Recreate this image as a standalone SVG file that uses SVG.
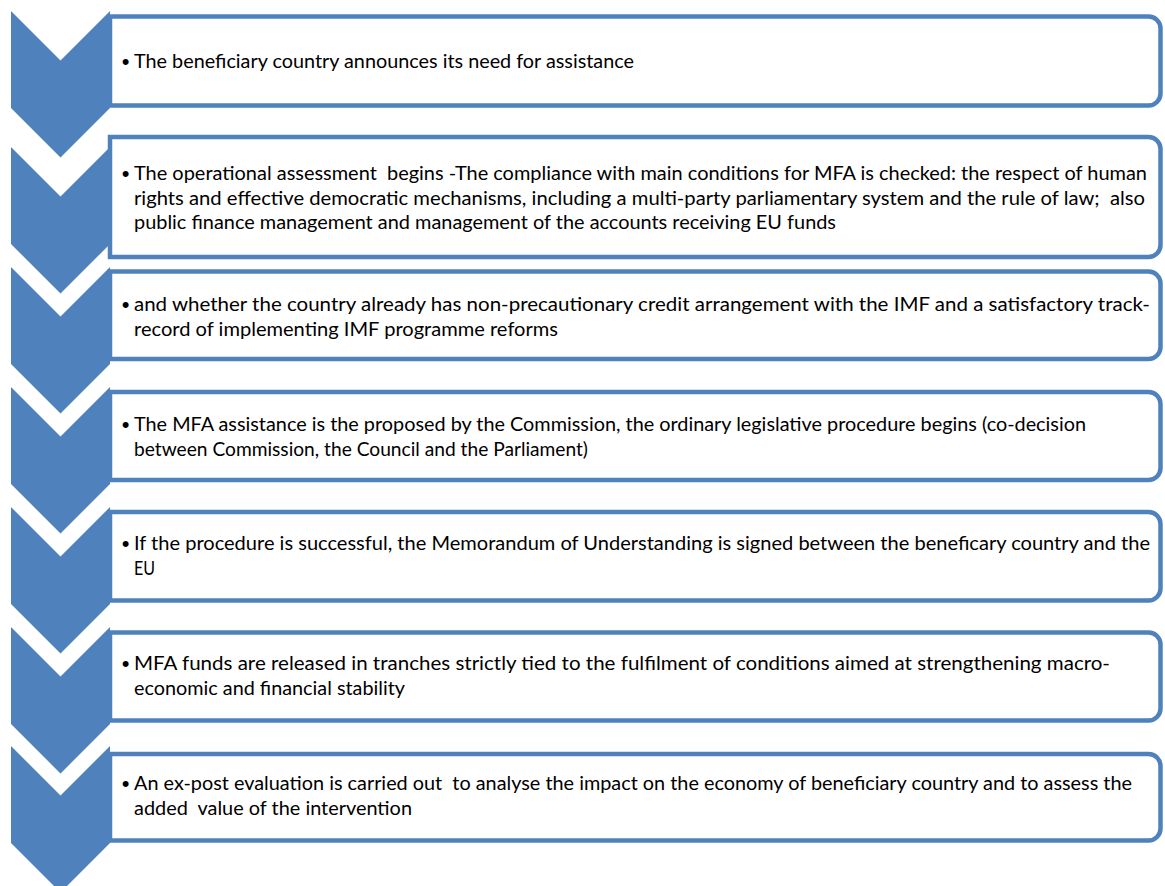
<svg xmlns="http://www.w3.org/2000/svg" width="1165" height="886" viewBox="0 0 1165 886">
  <style>
    .box { fill: #ffffff; stroke: #4f81bd; stroke-width: 4.5; }
    .chev { fill: #4f81bd; }
    text { font-family: Lato, "Liberation Sans", sans-serif; font-size: 18.5px; fill: #000000; white-space: pre; }
    .bul { text-anchor: middle; font-family: "Liberation Sans", sans-serif; font-size: 22px; }
  </style>
  <defs>
    <!-- downward chevron, 99 wide, 147 tall, 45-degree notch and point -->
    <polygon id="chevron" points="11,0 60.5,49.5 110,0 110,97 60.5,146.5 11,97"/>
  </defs>
  <rect width="1165" height="886" fill="#ffffff"/>

  <g id="step1">
    <path class="box" d="M110,16.5 H1148.5 A12,12 0 0 1 1160.5,28.5 V93.5 A12,12 0 0 1 1148.5,105.5 H110 Z"/>
    <use href="#chevron" class="chev" y="11"/>
    <text class="bul" x="125.5" y="69">•</text>
    <text x="134" y="68" textLength="500" lengthAdjust="spacingAndGlyphs">The beneficiary country announces its need for assistance</text>
  </g>

  <g id="step2">
    <path class="box" d="M110,137 H1148.5 A12,12 0 0 1 1160.5,149 V245 A12,12 0 0 1 1148.5,257 H110 Z"/>
    <use href="#chevron" class="chev" y="147"/>
    <text class="bul" x="125.5" y="181">•</text>
    <text x="134" y="180" textLength="1013" lengthAdjust="spacingAndGlyphs">The operational assessment  begins -The compliance with main conditions for MFA is checked: the respect of human</text>
    <text x="134" y="204.5" textLength="1011" lengthAdjust="spacingAndGlyphs">rights and effective democratic mechanisms, including a multi-party parliamentary system and the rule of law;  also</text>
    <text x="134" y="229" textLength="702" lengthAdjust="spacingAndGlyphs">public finance management and management of the accounts receiving EU funds</text>
  </g>

  <g id="step3">
    <path class="box" d="M110,271.5 H1148.5 A12,12 0 0 1 1160.5,283.5 V347 A12,12 0 0 1 1148.5,359 H110 Z"/>
    <use href="#chevron" class="chev" y="267"/>
    <text class="bul" x="125.5" y="312">•</text>
    <text x="134" y="311" textLength="1016" lengthAdjust="spacingAndGlyphs">and whether the country already has non-precautionary credit arrangement with the IMF and a satisfactory track-</text>
    <text x="134" y="335.5" textLength="424" lengthAdjust="spacingAndGlyphs">record of implementing IMF programme reforms</text>
  </g>

  <g id="step4">
    <path class="box" d="M110,392 H1148.5 A12,12 0 0 1 1160.5,404 V468 A12,12 0 0 1 1148.5,480 H110 Z"/>
    <use href="#chevron" class="chev" y="387"/>
    <text class="bul" x="125.5" y="432">•</text>
    <text x="134" y="431" textLength="952" lengthAdjust="spacingAndGlyphs">The MFA assistance is the proposed by the Commission, the ordinary legislative procedure begins (co-decision</text>
    <text x="134" y="455.5" textLength="454" lengthAdjust="spacingAndGlyphs">between Commission, the Council and the Parliament)</text>
  </g>

  <g id="step5">
    <path class="box" d="M110,512 H1148.5 A12,12 0 0 1 1160.5,524 V588.5 A12,12 0 0 1 1148.5,600.5 H110 Z"/>
    <use href="#chevron" class="chev" y="507"/>
    <text class="bul" x="125.5" y="551">•</text>
    <text x="134" y="550" textLength="1016" lengthAdjust="spacingAndGlyphs">If the procedure is successful, the Memorandum of Understanding is signed between the beneficary country and the</text>
    <text x="134" y="574.5" textLength="21" lengthAdjust="spacingAndGlyphs">EU</text>
  </g>

  <g id="step6">
    <path class="box" d="M110,632.5 H1148.5 A12,12 0 0 1 1160.5,644.5 V708.5 A12,12 0 0 1 1148.5,720.5 H110 Z"/>
    <use href="#chevron" class="chev" y="627"/>
    <text class="bul" x="125.5" y="671">•</text>
    <text x="134" y="670" textLength="976" lengthAdjust="spacingAndGlyphs">MFA funds are released in tranches strictly tied to the fulfilment of conditions aimed at strengthening macro-</text>
    <text x="134" y="694.5" textLength="271" lengthAdjust="spacingAndGlyphs">economic and financial stability</text>
  </g>

  <g id="step7">
    <path class="box" d="M110,754 H1148.5 A12,12 0 0 1 1160.5,766 V828.5 A12,12 0 0 1 1148.5,840.5 H110 Z"/>
    <use href="#chevron" class="chev" y="746"/>
    <text class="bul" x="125.5" y="791">•</text>
    <text x="134" y="790" textLength="998" lengthAdjust="spacingAndGlyphs">An ex-post evaluation is carried out  to analyse the impact on the economy of beneficiary country and to assess the</text>
    <text x="134" y="814.5" textLength="278" lengthAdjust="spacingAndGlyphs">added  value of the intervention</text>
  </g>

  <!-- the steps are linked by the chevrons themselves; no separate connector lines -->
  <g id="connectors"/>
</svg>
